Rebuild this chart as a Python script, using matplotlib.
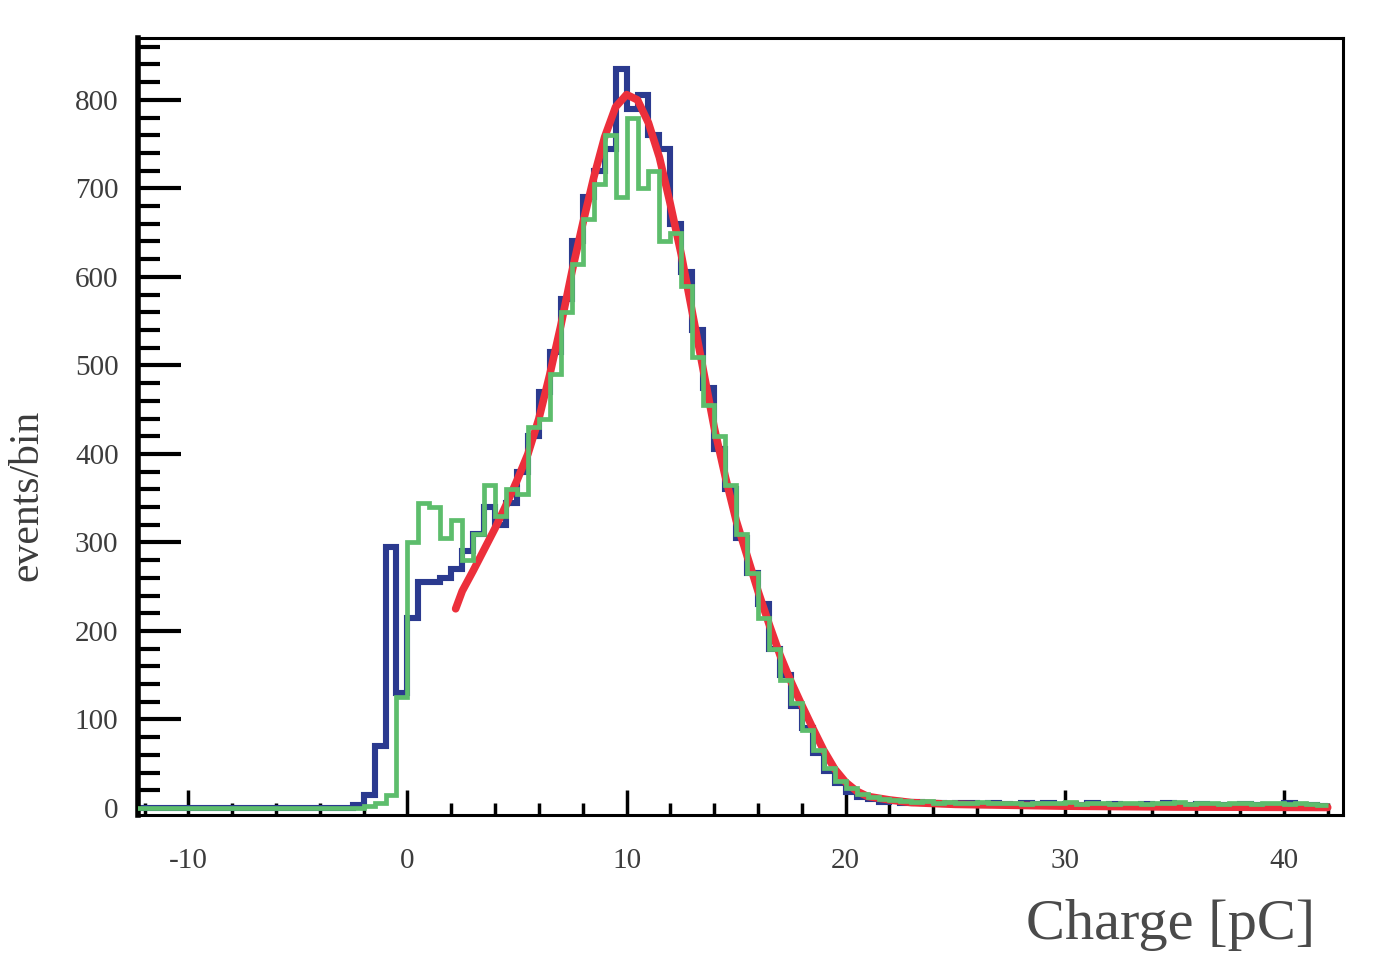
import numpy as np
import matplotlib
matplotlib.use('Agg')
import matplotlib.pyplot as plt
from matplotlib.ticker import MultipleLocator

plt.rcParams['axes.unicode_minus'] = False

# bin layout: 0.5 pC bins, first filled bin starts at -2.5 pC
bin_start = -2.5
bin_width = 0.5

# blue histogram, bins -2.5 .. 21.5
blue_main = [3, 15, 70, 295, 130, 215, 255, 255, 260, 270,
             290, 310, 340, 320, 345, 380, 420, 470, 515, 575,
             640, 690, 720, 745, 835, 790, 805, 760, 745, 660,
             605, 540, 475, 405, 360, 305, 265, 230, 180, 150,
             115, 90, 62, 42, 28, 18, 12, 10, 7]
# blue tail, bins 22 .. 41.5
blue_tail = [8, 6, 7, 5, 6, 4, 5, 6, 3, 5, 4, 3, 5, 4, 6, 3, 4, 3, 5, 2,
             4, 3, 2, 4, 3, 5, 2, 3, 4, 2, 3, 2, 4, 3, 2, 3, 5, 2, 3, 2]

# green histogram
green_main = [0, 2, 5, 15, 125, 300, 345, 340, 305, 325,
              280, 310, 365, 330, 360, 355, 430, 440, 490, 560,
              615, 665, 705, 760, 690, 780, 700, 720, 640, 650,
              590, 510, 455, 420, 365, 310, 265, 215, 180, 145,
              118, 88, 65, 45, 30, 22, 16, 12, 10]
green_tail = [9, 8, 7, 8, 6, 7, 6, 5, 7, 5, 6, 5, 4, 6, 5, 5, 7, 4, 5, 6,
              4, 5, 6, 4, 5, 5, 7, 4, 6, 5, 4, 6, 5, 4, 6, 5, 4, 5, 4, 3]

# red fit curve
fit_x = [2.2, 2.5, 3.0, 3.5, 4.0, 4.5, 5.0, 5.5, 6.0, 6.5, 7.0, 7.5, 8.0, 8.5,
         9.0, 9.5, 10.0, 10.5, 11.0, 11.5, 12.0, 12.5, 13.0, 13.5, 14.0, 14.5,
         15.0, 15.5, 16.0, 16.5, 17.0, 17.5, 18.0, 18.5, 19.0, 19.5, 20.0,
         20.5, 21.0, 22.0, 23.0, 25.0, 30.0, 35.0, 42.0]
fit_y = [225, 245, 268, 292, 316, 342, 370, 400, 440, 490, 545, 605, 660, 712,
         758, 792, 806, 800, 774, 735, 682, 625, 560, 495, 430, 375,
         325, 285, 245, 208, 173, 143, 116, 90, 65, 44, 29,
         19, 13, 9, 6, 4, 2, 1, 0.5]

x_ticks = [-10, 0, 10, 20, 30, 40]
y_ticks = [0, 100, 200, 300, 400, 500, 600, 700, 800]

blue_c = '#2b3a8f'
green_c = '#5dbd6c'
red_c = '#ec2f3b'
txt_c = '#3c3c3c'

blue = np.array([0] + blue_main + blue_tail, dtype=float)
green = np.array([0] + green_main + green_tail, dtype=float)
edges = np.concatenate([[-12.5], bin_start + bin_width * np.arange(len(blue_main) + len(blue_tail) + 1)])

fig = plt.figure(figsize=(13.85, 9.73), dpi=100)
ax = fig.add_axes([0.0996, 0.1624, 0.8701, 0.7986])

ax.stairs(blue, edges, color=blue_c, lw=4.4, baseline=None, zorder=2)
ax.plot(fit_x, fit_y, color=red_c, lw=5.5, solid_capstyle='round', zorder=3)
ax.stairs(green, edges, color=green_c, lw=3.4, baseline=None, zorder=4)

ax.set_xlim(-12.3, 42.7)
ax.set_ylim(-8, 870)

ax.set_xticks(x_ticks)
ax.set_yticks(y_ticks)
ax.xaxis.set_minor_locator(MultipleLocator(2))
ax.yaxis.set_minor_locator(MultipleLocator(20))

serif = ['Liberation Serif', 'DejaVu Serif']
ax.tick_params(axis='y', which='major', direction='in', length=31, width=3,
               pad=14, labelsize=21, labelcolor=txt_c)
ax.tick_params(axis='y', which='minor', direction='in', length=16, width=3)
ax.tick_params(axis='x', which='major', direction='in', length=18, width=2.5,
               pad=24, labelsize=21, labelcolor=txt_c)
ax.tick_params(axis='x', which='minor', direction='in', length=9, width=2.5)
for lab in ax.get_xticklabels() + ax.get_yticklabels():
    lab.set_family(serif)

for side in ['top', 'right', 'bottom']:
    ax.spines[side].set_linewidth(2.2)
ax.spines['left'].set_linewidth(4)

fig.text(0.0195, 0.491, 'events/bin', rotation=90, ha='center', va='center',
         fontsize=30, color=txt_c, family=serif)
fig.text(0.845, 0.049, 'Charge [pC]', ha='center', va='center',
         fontsize=42, color='#4a4a4a', family=serif)

fig.savefig('out.png', dpi=100)
